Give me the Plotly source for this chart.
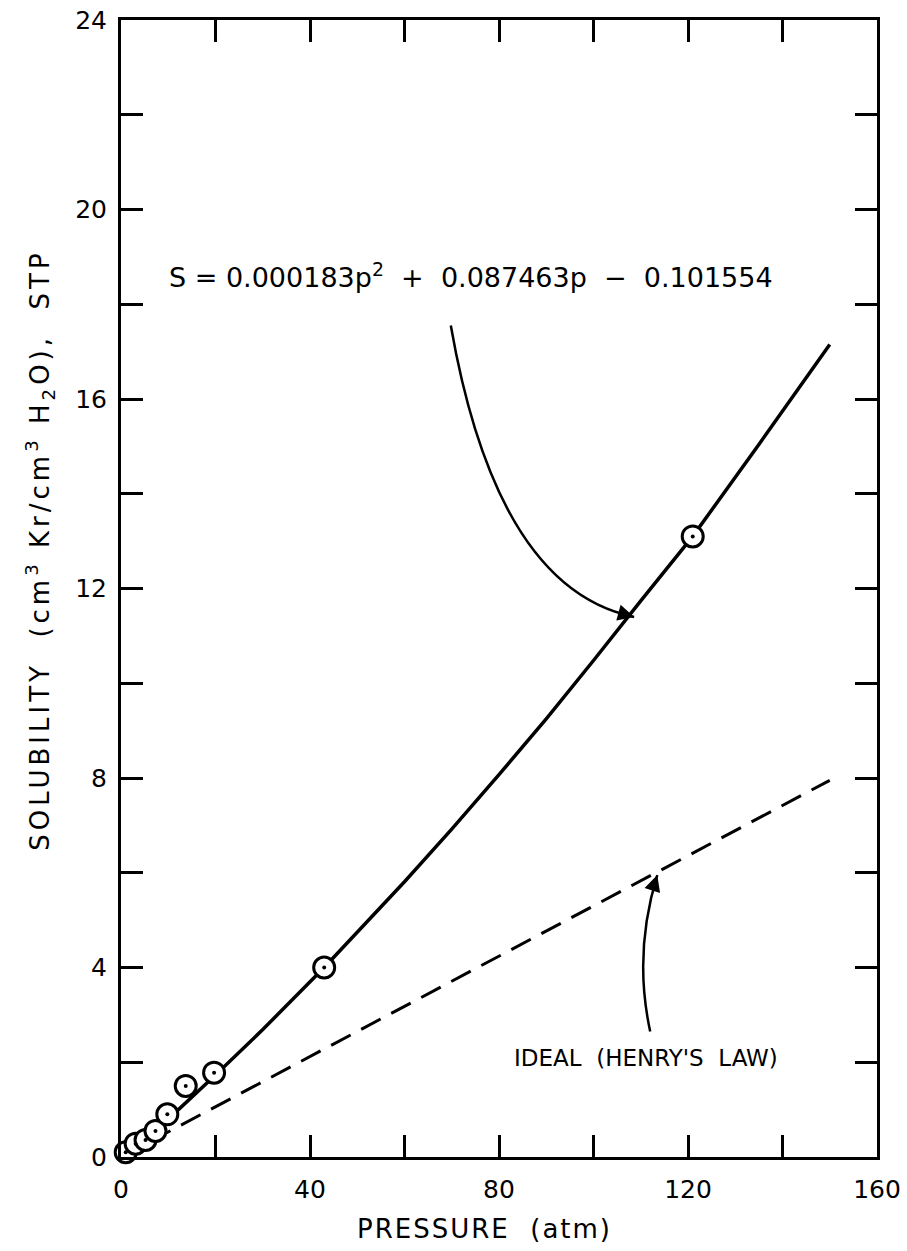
import plotly.graph_objects as go

# ---- data ----
meas_p = [1.0, 3.1, 5.2, 7.3, 9.8, 13.7, 19.7, 43.0, 121.0]
meas_s = [0.10, 0.28, 0.36, 0.55, 0.90, 1.50, 1.78, 4.00, 13.10]

fit_p = [1, 10, 20, 30, 43, 60, 70, 80, 90, 100, 110, 121, 135, 150]
fit_s = [0.0, 0.80, 1.73, 2.69, 4.00, 5.81, 6.92, 8.07, 9.25, 10.48, 11.74, 13.10, 15.04, 17.15]

ideal_p = [0, 150]
ideal_s = [0.0, 7.95]

x_tickvals = [0, 40, 80, 120, 160]
x_ticktext = ["0", "40", "80", "120", "160"]
y_tickvals = [0, 4, 8, 12, 16, 20, 24]
y_ticktext = ["0", "4", "8", "12", "16", "20", "24"]

FONT = "DejaVu Sans, Verdana, sans-serif"
BLACK = "#000000"
NB = "\u00a0"


def spaced(txt, px):
    return '<span style="letter-spacing:%dpx">%s</span>' % (px, txt)


fig = go.Figure()

fig.add_trace(go.Scatter(x=ideal_p, y=ideal_s, mode="lines",
                         line=dict(color=BLACK, width=3, dash="22px,12px"),
                         hoverinfo="skip", showlegend=False))
fig.add_trace(go.Scatter(x=fit_p, y=fit_s, mode="lines",
                         line=dict(color=BLACK, width=3.5),
                         hoverinfo="skip", showlegend=False))
fig.add_trace(go.Scatter(x=meas_p, y=meas_s, mode="markers", cliponaxis=False,
                         marker=dict(symbol="circle", size=21, color="white",
                                     line=dict(color=BLACK, width=3)),
                         showlegend=False))
fig.add_trace(go.Scatter(x=meas_p, y=meas_s, mode="markers", cliponaxis=False,
                         marker=dict(symbol="circle", size=4, color=BLACK),
                         hoverinfo="skip", showlegend=False))

# curved leader lines
fig.add_shape(type="path", xref="x", yref="y",
              path="M 69.8,17.55 Q 79.5,12.0 108.6,11.4",
              line=dict(color=BLACK, width=2.5))
fig.add_shape(type="path", xref="x", yref="y",
              path="M 112,2.65 Q 108.4,4.3 113.5,5.95",
              line=dict(color=BLACK, width=2.5))

fig.add_annotation(x=108.6, y=11.4, ax=105.7, ay=11.48, xref="x", yref="y",
                   axref="x", ayref="y", text="", showarrow=True,
                   arrowhead=2, arrowsize=1.3, arrowwidth=2.5, arrowcolor=BLACK,
                   standoff=0)
fig.add_annotation(x=113.5, y=5.95, ax=112.6, ay=5.67, xref="x", yref="y",
                   axref="x", ayref="y", text="", showarrow=True,
                   arrowhead=2, arrowsize=1.3, arrowwidth=2.5, arrowcolor=BLACK,
                   standoff=0)

fig.add_annotation(x=9.8, y=18.6, xref="x", yref="y", xanchor="left",
                   yanchor="middle", showarrow=False,
                   text=("S = 0.000183p<sup>2</sup>" + NB * 2 + "+" + NB * 2 +
                         "0.087463p" + NB * 2 + "\u2212" + NB * 2 + "0.101554"),
                   font=dict(family=FONT, size=27, color=BLACK))
fig.add_annotation(x=139.5, y=2.1, xref="x", yref="y", xanchor="right",
                   yanchor="middle", showarrow=False,
                   text="IDEAL" + NB * 2 + "(HENRY'S" + NB * 2 + "LAW)",
                   font=dict(family=FONT, size=23, color=BLACK))

# axis titles (placed as text, like the original lettering)
fig.add_annotation(x=-0.107, xref="paper", y=12.8, yref="y",
                   xanchor="center", yanchor="middle", textangle=-90,
                   showarrow=False,
                   text=spaced("SOLUBILITY" + NB * 2 + "(cm<sup>3</sup>" + NB +
                               "Kr/cm<sup>3</sup>" + NB + "H<sub>2</sub>O)," +
                               NB * 2 + "STP", 4),
                   font=dict(family=FONT, size=26, color=BLACK))
fig.add_annotation(x=77, xref="x", y=-0.063, yref="paper",
                   xanchor="center", yanchor="middle", showarrow=False,
                   text=spaced("PRESSURE" + NB * 2 + "(atm)", 2),
                   font=dict(family=FONT, size=26, color=BLACK))

axis_common = dict(showline=True, linecolor=BLACK, linewidth=3, mirror="ticks",
                   ticks="inside", ticklen=22, tickwidth=3, tickcolor=BLACK,
                   showgrid=False, zeroline=False,
                   tickfont=dict(family=FONT, size=25, color=BLACK))

fig.update_xaxes(range=[0, 160], tickmode="array", tickvals=x_tickvals,
                 ticktext=x_ticktext, ticklabelstandoff=8,
                 minor=dict(ticks="inside", dtick=20, tick0=0, ticklen=22,
                            tickwidth=3, tickcolor=BLACK, showgrid=False),
                 **axis_common)
fig.update_yaxes(range=[0, 24], tickmode="array", tickvals=y_tickvals,
                 ticktext=y_ticktext, ticklabelstandoff=6,
                 minor=dict(ticks="inside", dtick=2, tick0=0, ticklen=22,
                            tickwidth=3, tickcolor=BLACK, showgrid=False),
                 **axis_common)

fig.update_layout(width=907, height=1251,
                  margin=dict(l=121, r=30, t=20, b=94, autoexpand=False),
                  paper_bgcolor="white", plot_bgcolor="white",
                  showlegend=False)

fig.write_html("out.html", config={"displayModeBar": False},
               post_script="document.body.style.margin='0';"
                           "document.body.style.overflow='hidden';")
